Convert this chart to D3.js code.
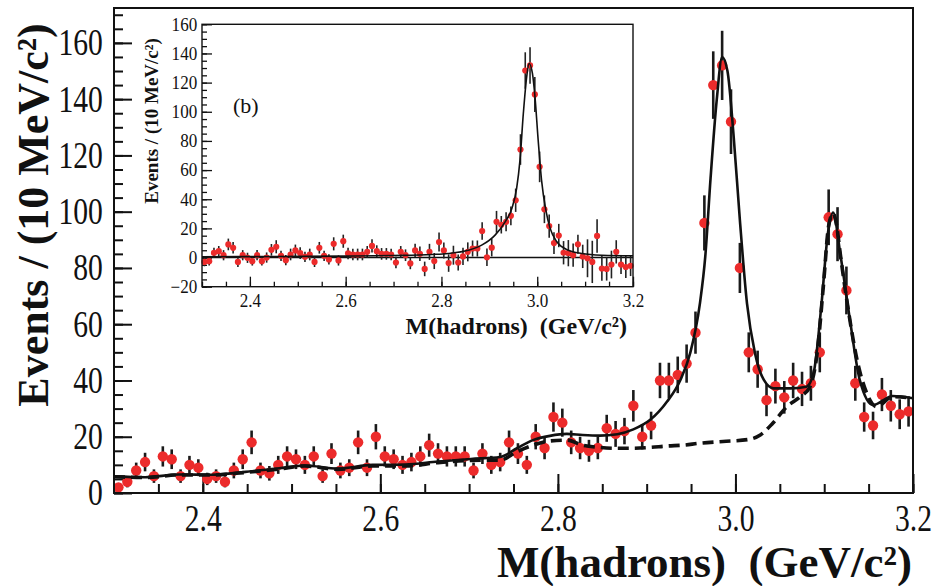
<!DOCTYPE html>
<html>
<head>
<meta charset="utf-8">
<script src="https://cdn.jsdelivr.net/npm/d3@7/dist/d3.min.js"></script>
<style>
  html, body { margin: 0; padding: 0; background: #fff; }
  svg { display: block; }
  text { font-family: "Liberation Serif", "Times New Roman", serif; fill: #111; white-space: pre; }
</style>
</head>
<body>
<svg id="chart" width="936" height="586"></svg>
<script>
// ---- Data: 10 MeV/c^2 bins from 2.30 to 3.20 GeV/c^2 ----
const binStart = 2.30;
const binWidth = 0.01;

// Events per bin (all candidates)
const eventCounts = [
  2, 4, 8, 11, 6, 13, 12, 6, 10, 9,
  5, 6, 4, 8, 12, 18, 8, 7, 10, 13,
  12, 10, 13, 6, 14, 8, 9, 18, 9, 20,
  13, 12, 10, 11, 13, 17, 14, 13, 13, 13,
  8, 14, 10, 11, 18, 14, 10, 20, 16, 27,
  25, 18, 16, 15, 16, 23, 21, 22, 31, 20,
  24, 40, 40, 42, 46, 57, 96, 145, 152, 132,
  80, 50, 44, 33, 38, 34, 40, 37, 39, 50,
  98, 92, 72, 39, 27, 24, 35, 31, 28, 29
];
const eventErrors = [
  1.4, 2.0, 2.8, 3.3, 2.4, 3.6, 3.5, 2.4, 3.2, 3.0,
  2.2, 2.4, 2.0, 2.8, 3.5, 4.2, 2.8, 2.6, 3.2, 3.6,
  3.5, 3.2, 3.6, 2.4, 3.7, 2.8, 3.0, 4.2, 3.0, 4.5,
  3.6, 3.5, 3.2, 3.3, 3.6, 4.1, 3.7, 3.6, 3.6, 3.6,
  2.8, 3.7, 3.2, 3.3, 4.2, 3.7, 3.2, 4.5, 4.0, 5.2,
  5.0, 4.2, 4.0, 3.9, 4.0, 4.8, 4.6, 4.7, 5.6, 4.5,
  4.9, 6.3, 6.3, 6.5, 6.8, 7.5, 9.8, 12.0, 12.3, 11.5,
  8.9, 7.1, 6.6, 5.7, 6.2, 5.8, 6.3, 6.1, 6.2, 7.1,
  9.9, 9.6, 8.5, 6.2, 5.2, 4.9, 5.9, 5.6, 5.3, 5.4
];

// Total fit (solid) sampled along the mass axis
const fitMass = [2.300, 2.335, 2.373, 2.410, 2.448, 2.486, 2.515, 2.552, 2.591, 2.628,
  2.665, 2.702, 2.735, 2.754, 2.772, 2.791, 2.810, 2.828, 2.847, 2.867,
  2.885, 2.904, 2.923, 2.938, 2.949, 2.960, 2.966, 2.972, 2.979, 2.985,
  2.991, 2.998, 3.005, 3.013, 3.022, 3.032, 3.043, 3.062, 3.080, 3.088,
  3.097, 3.104, 3.110, 3.118, 3.129, 3.140, 3.155, 3.177, 3.200];
const fitTotal = [5.9, 5.6, 6.6, 6.5, 7.5, 8.8, 9.8, 8.7, 10.0, 10.1,
  11.2, 12.1, 12.8, 15.9, 18.8, 20.3, 21.0, 20.6, 20.4, 20.9,
  22.6, 26.0, 32.5, 40.2, 49.7, 67.4, 84.0, 112.0, 140.0, 155.0,
  150.0, 126.7, 97.0, 67.4, 49.7, 40.2, 37.2, 37.2, 37.8, 42.6,
  67.4, 92.0, 99.7, 85.2, 61.5, 40.2, 31.3, 34.5, 33.7];

// Background + J/psi component (dashed)
const bkgMass = [2.300, 2.335, 2.373, 2.410, 2.448, 2.486, 2.515, 2.552, 2.591, 2.628,
  2.665, 2.702, 2.735, 2.754, 2.772, 2.791, 2.810, 2.828, 2.847, 2.867,
  2.885, 2.904, 2.923, 2.941, 2.960, 2.986, 3.016, 3.028, 3.042, 3.058,
  3.073, 3.084, 3.092, 3.099, 3.105, 3.110, 3.114, 3.118, 3.126, 3.137,
  3.148, 3.159, 3.177, 3.200];
const bkgValue = [5.8, 5.5, 6.4, 6.4, 7.3, 8.5, 9.6, 8.4, 9.6, 9.6,
  10.8, 11.6, 11.7, 14.7, 17.0, 18.5, 18.8, 17.0, 16.2, 15.9,
  15.9, 16.2, 16.7, 17.0, 17.7, 18.3, 19.1, 20.6, 24.8, 30.7,
  34.2, 37.8, 49.7, 73.4, 95.0, 99.4, 95.0, 85.2, 67.4, 47.3,
  35.4, 30.7, 34.2, 33.7];

// Inset (b): background-subtracted events
const insetValues = [
  -3, -2.5, 3.2, 4.4, 1.6, 9, 6.7, -3, 1.6, -0.2,
  -2.5, 1.6, -2.5, 0, 5.3, 7.4, 1.2, -1.8, 2.1, 4.9,
  3, 0.5, 2.1, -3, 6.7, 1.2, -1.3, 9.4, -2, 11.2,
  2.8, 2.1, 2.1, 2.1, 3.9, 8, 4.4, 2.5, 2.5, 2.1,
  -3.4, 3.9, 1.6, -4, 4.9, 2.6, -7.8, 3.9, -2.4, 10.6,
  4.9, -3.8, 1.6, -3.4, 0.8, 3.9, 6.2, 6.2, 18.2, 0.2,
  6.8, 24.5, 22.5, 24.5, 28.6, 39.3, 74.1, 128.3, 131.8, 111.9,
  62.2, 33.1, 21.6, 9.9, 15.1, 3.3, 3.0, 1.6, 9.1, 0.8,
  -0.5, -3, 14.8, -7.5, -7.8, -4.8, 3.9, -4.8, -6.5, -5.7
];
const insetErrors = [
  3, 3, 3.5, 3.5, 3.5, 4, 4, 3.5, 3.5, 3.5,
  3, 3.5, 3, 3.5, 4, 4.5, 3.5, 3.5, 4, 4,
  4, 3.5, 4, 3.5, 4, 3.5, 3.5, 4.5, 3.5, 4.5,
  4, 4, 4, 4, 4, 4.5, 4, 4, 4, 4,
  4, 4, 4, 4, 4.5, 5, 5, 5.5, 5.5, 6.5,
  5.5, 6, 6.5, 5.5, 6, 6.5, 5.5, 5.5, 6, 6,
  6, 7.5, 6, 6.5, 6.5, 8, 10.5, 12.5, 12.5, 12,
  10.5, 9.5, 8, 7.5, 8, 8, 9, 8, 6.5, 8,
  13, 14.5, 11.5, 8.5, 8, 9.5, 8, 6.5, 7.5, 7
];
const insetFitMass = [2.300, 2.450, 2.600, 2.700, 2.780, 2.814, 2.856, 2.884, 2.912, 2.933,
  2.947, 2.957, 2.964, 2.971, 2.978, 2.983, 2.990, 2.995, 3.002, 3.009,
  3.018, 3.027, 3.041, 3.065, 3.093, 3.135, 3.200];
const insetFitValue = [0.5, 0.7, 1.0, 1.4, 2.1, 2.8, 5.0, 8.5, 15.4, 24.5,
  33.7, 47.4, 66.8, 98.8, 124.0, 133.1, 126.3, 111.4, 80.5, 53.1,
  32.5, 20.0, 10.8, 5.0, 2.8, 1.6, 1.2];

// Axis ticks and labels
const massTicks = [2.4, 2.6, 2.8, 3.0, 3.2];
const massMinorTicks = d3.range(2.30, 3.2001, 0.05);
const mainYTicks = [0, 20, 40, 60, 80, 100, 120, 140, 160];
const mainYMinorTicks = d3.range(0, 171, 5);
const insetYTicks = [-20, 0, 20, 40, 60, 80, 100, 120, 140, 160];
const insetYMinorTicks = d3.range(-20, 161, 5);
const xTitle = "M(hadrons)  (GeV/c²)";
const yTitle = "Events / (10 MeV/c²)";
const insetTag = "(b)";

// ---- Drawing ----
const svg = d3.select("#chart");
const RED = "#ec2b2b";
const SERIF = '"Liberation Serif", "Times New Roman", serif';
const binCenter = i => binStart + binWidth * (i + 0.5);

const mainData = eventCounts.map((v, i) => ({ m: binCenter(i), v, e: eventErrors[i] }));
const insetData = insetValues.map((v, i) => ({ m: binCenter(i), v, e: insetErrors[i] }));

function fmtMass(d) { return d3.format(".1f")(d); }

// Main panel
const x = d3.scaleLinear().domain([2.30, 3.20]).range([114, 913]);
const y = d3.scaleLinear().domain([0, 172.4]).range([493, 8]);

function styleLabels(sel, size, sx) {
  sel.attr("font-family", null).attr("font-size", null);
  sel.selectAll("text")
    .style("font-family", SERIF)
    .style("font-size", size + "px")
    .attr("fill", "#111")
    .attr("transform", `scale(${sx},1)`);
}

// minor ticks
svg.append("g").attr("transform", "translate(0,493)")
  .call(d3.axisBottom(x).tickValues(massMinorTicks).tickSize(-9).tickFormat(""))
  .call(g => g.select(".domain").remove());
svg.append("g").attr("transform", "translate(114,0)")
  .call(d3.axisLeft(y).tickValues(mainYMinorTicks).tickSize(-9).tickFormat(""))
  .call(g => g.select(".domain").remove());
// major ticks + labels
const gxMain = svg.append("g").attr("transform", "translate(0,493)")
  .call(d3.axisBottom(x).tickValues(massTicks).tickSize(-19).tickPadding(12).tickFormat(fmtMass))
  .call(g => g.select(".domain").remove());
styleLabels(gxMain, 37, 0.8);
const gyMain = svg.append("g").attr("transform", "translate(114,0)")
  .call(d3.axisLeft(y).tickValues(mainYTicks).tickSize(-18).tickPadding(14).tickFormat(d3.format("d")))
  .call(g => g.select(".domain").remove());
styleLabels(gyMain, 37, 0.8);
svg.selectAll(".tick line").attr("stroke", "#111").attr("stroke-width", 2);

// error bars
svg.append("g").selectAll("line").data(mainData).join("line")
  .attr("x1", d => x(d.m)).attr("x2", d => x(d.m))
  .attr("y1", d => y(Math.max(0, d.v - d.e))).attr("y2", d => y(d.v + d.e))
  .attr("stroke", "#1a1a1a").attr("stroke-width", 2.6);
// points
svg.append("g").selectAll("circle").data(mainData).join("circle")
  .attr("cx", d => x(d.m)).attr("cy", d => y(d.v)).attr("r", 5.2)
  .attr("fill", RED);

// fit curves
const lineMain = d3.line().x(d => x(d[0])).y(d => y(d[1])).curve(d3.curveMonotoneX);
svg.append("path").datum(bkgMass.map((m, i) => [m, bkgValue[i]]))
  .attr("d", lineMain).attr("fill", "none").attr("stroke", "#111")
  .attr("stroke-width", 3.6).attr("stroke-dasharray", "11,6");
svg.append("path").datum(fitMass.map((m, i) => [m, fitTotal[i]]))
  .attr("d", lineMain).attr("fill", "none").attr("stroke", "#111")
  .attr("stroke-width", 2.6);

// frame
svg.append("rect").attr("x", 114).attr("y", 8).attr("width", 799).attr("height", 485)
  .attr("fill", "none").attr("stroke", "#111").attr("stroke-width", 2);

// axis titles
svg.append("text").attr("x", 912).attr("y", 577).attr("text-anchor", "end")
  .style("font-size", "45px").style("font-weight", "bold").text(xTitle);
svg.append("text").attr("transform", "translate(48,215) rotate(-90)").attr("text-anchor", "middle")
  .style("font-size", "44px").style("font-weight", "bold").text(yTitle);

// ---- Inset (b) ----
const xi = d3.scaleLinear().domain([2.30, 3.20]).range([202, 633]);
const yi = d3.scaleLinear().domain([-20, 160]).range([286.7, 24.3]);
const inset = svg.append("g");
inset.append("rect").attr("x", 202).attr("y", 24.3).attr("width", 431).attr("height", 262.4)
  .attr("fill", "#fff");

inset.append("g").attr("transform", "translate(0,286.7)")
  .call(d3.axisBottom(xi).tickValues(massMinorTicks).tickSize(-5).tickFormat(""))
  .call(g => g.select(".domain").remove());
inset.append("g").attr("transform", "translate(202,0)")
  .call(d3.axisLeft(yi).tickValues(insetYMinorTicks).tickSize(-5).tickFormat(""))
  .call(g => g.select(".domain").remove());
const gxIn = inset.append("g").attr("transform", "translate(0,286.7)")
  .call(d3.axisBottom(xi).tickValues(massTicks).tickSize(-10).tickPadding(8).tickFormat(fmtMass))
  .call(g => g.select(".domain").remove());
styleLabels(gxIn, 18, 0.95);
const gyIn = inset.append("g").attr("transform", "translate(202,0)")
  .call(d3.axisLeft(yi).tickValues(insetYTicks).tickSize(-10).tickPadding(5).tickFormat(d3.format("d")))
  .call(g => g.select(".domain").remove());
styleLabels(gyIn, 18, 0.95);
inset.selectAll(".tick line").attr("stroke", "#111").attr("stroke-width", 1.3);

// zero line
inset.append("line").attr("x1", 202).attr("x2", 633).attr("y1", yi(0)).attr("y2", yi(0))
  .attr("stroke", "#111").attr("stroke-width", 1.5);

inset.append("g").selectAll("line").data(insetData).join("line")
  .attr("x1", d => xi(d.m)).attr("x2", d => xi(d.m))
  .attr("y1", d => yi(d.v - d.e)).attr("y2", d => yi(d.v + d.e))
  .attr("stroke", "#222").attr("stroke-width", 1.6);
inset.append("g").selectAll("circle").data(insetData).join("circle")
  .attr("cx", d => xi(d.m)).attr("cy", d => yi(d.v)).attr("r", 3.1)
  .attr("fill", RED);

const lineInset = d3.line().x(d => xi(d[0])).y(d => yi(d[1])).curve(d3.curveMonotoneX);
inset.append("path").datum(insetFitMass.map((m, i) => [m, insetFitValue[i]]))
  .attr("d", lineInset).attr("fill", "none").attr("stroke", "#111").attr("stroke-width", 1.6);

inset.append("rect").attr("x", 202).attr("y", 24.3).attr("width", 431).attr("height", 262.4)
  .attr("fill", "none").attr("stroke", "#111").attr("stroke-width", 1.4);

inset.append("text").attr("x", 627).attr("y", 334).attr("text-anchor", "end")
  .style("font-size", "24px").style("font-weight", "bold").text(xTitle);
inset.append("text").attr("transform", "translate(158,121) rotate(-90)").attr("text-anchor", "middle")
  .style("font-size", "19px").style("font-weight", "bold").text(yTitle);
inset.append("text").attr("x", 233).attr("y", 113)
  .style("font-size", "22px").text(insetTag);
</script>
</body>
</html>
